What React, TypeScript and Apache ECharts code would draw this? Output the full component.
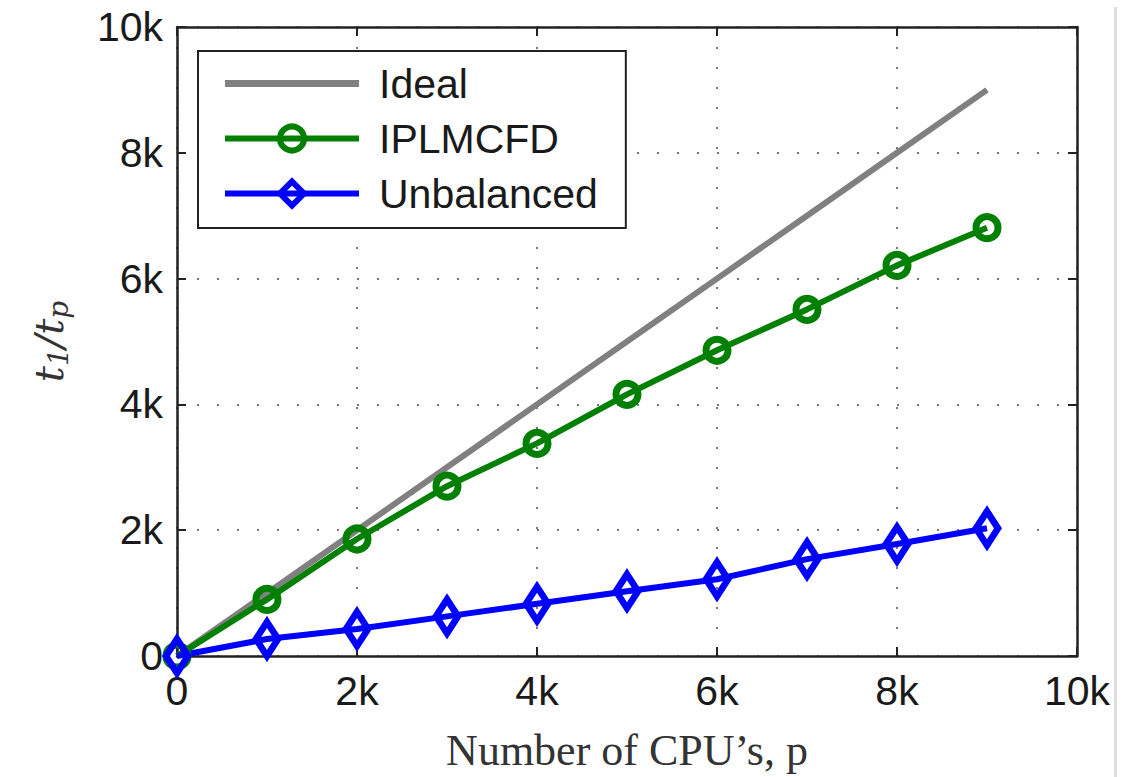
import React, { useEffect, useRef } from "react";
import * as echarts from "echarts";

const cpus = [0, 1000, 2000, 3000, 4000, 5000, 6000, 7000, 8000, 9000];
const ideal = [0, 1000, 2000, 3000, 4000, 5000, 6000, 7000, 8000, 9000];
const iplmcfd = [0, 900, 1860, 2700, 3380, 4160, 4860, 5510, 6210, 6810];
const unbalanced = [0, 270, 430, 630, 830, 1030, 1220, 1540, 1780, 2030];
const seriesNames = ["Ideal", "IPLMCFD", "Unbalanced"];

const fmt = (v: number) => (v === 0 ? "0" : v / 1000 + "k");
const pairs = (ys: number[]) => cpus.map((x, i) => [x, ys[i]]);

const AXIS = "#222";
const GREY = "#808080";
const GREEN = "#008000";
const BLUE = "#0000ff";
const CLEAR = "rgba(255,255,255,0)";
const tickFont = { fontFamily: "Liberation Sans", fontSize: 41, color: "#1a1a1a" };

export default function App() {
  const ref = useRef<HTMLDivElement>(null);
  useEffect(() => {
    if (!ref.current) return;
    const chart = echarts.init(ref.current, null, { renderer: "svg" });
    const baseX = {
      type: "value" as const,
      min: 0,
      max: 10000,
      interval: 2000,
      axisLine: { show: true, onZero: false, lineStyle: { color: AXIS, width: 2.5 } },
      axisTick: { show: true, inside: true, length: 9, lineStyle: { color: AXIS, width: 2 } },
    };
    chart.setOption({
      animation: false,
      backgroundColor: "#fff",
      grid: { left: 177, right: 47, top: 27, bottom: 120, containLabel: false },
      graphic: [
        { type: "rect", shape: { x: 1114, y: 7, width: 3, height: 770 }, style: { fill: "#dedede" } },
      ],
      legend: {
        orient: "vertical",
        left: 198,
        top: 51,
        padding: [12, 28, 14, 24],
        itemWidth: 134,
        itemHeight: 30,
        itemGap: 14,
        borderColor: AXIS,
        borderWidth: 2,
        backgroundColor: "#fff",
        textStyle: { fontFamily: "Liberation Sans", fontSize: 41, color: "#1a1a1a", padding: [0, 0, 0, 15] },
        data: [
          { name: seriesNames[0], icon: "path://M0 0H134V7H0Z", itemStyle: { color: GREY } },
          {
            name: seriesNames[1],
            itemStyle: { color: CLEAR, borderColor: GREEN, borderWidth: 6 },
            lineStyle: { color: GREEN, width: 6 },
          },
          {
            name: seriesNames[2],
            itemStyle: { color: CLEAR, borderColor: BLUE, borderWidth: 6 },
            lineStyle: { color: BLUE, width: 6 },
          },
        ],
      },
      xAxis: [
        {
          ...baseX,
          position: "bottom",
          axisLabel: { ...tickFont, margin: 14, formatter: fmt },
          splitLine: { show: true, lineStyle: { type: [2, 18], color: "#777", width: 2 } },
          name: "Number of CPU\u2019s, p",
          nameLocation: "middle",
          nameGap: 72,
          nameTextStyle: { fontFamily: "Liberation Serif", fontSize: 44, color: "#333" },
        },
        {
          ...baseX,
          position: "top",
          axisLabel: { show: false },
          splitLine: { show: false },
        },
      ],
      yAxis: [
        {
          ...baseX,
          position: "left",
          axisLabel: { ...tickFont, margin: 14, formatter: fmt },
          splitLine: { show: true, lineStyle: { type: [2, 18], color: "#777", width: 2 } },
          name: "{a|t}{b|1}{a|/t}{b|p}",
          nameLocation: "middle",
          nameRotate: 90,
          nameGap: 105,
          nameTextStyle: {
            rich: {
              a: { fontFamily: "DejaVu Serif", fontStyle: "italic", fontSize: 40, lineHeight: 46, color: "#333", verticalAlign: "middle" },
              b: { fontFamily: "DejaVu Serif", fontStyle: "italic", fontSize: 28, lineHeight: 28, color: "#333", verticalAlign: "bottom" },
            },
          },
        },
        {
          ...baseX,
          position: "right",
          axisLabel: { show: false },
          splitLine: { show: false },
        },
      ],
      series: [
        {
          name: seriesNames[0],
          type: "line",
          data: pairs(ideal),
          symbol: "none",
          showSymbol: false,
          itemStyle: { color: GREY },
          lineStyle: { color: GREY, width: 6 },
        },
        {
          name: seriesNames[1],
          type: "line",
          data: pairs(iplmcfd),
          symbol: "circle",
          symbolSize: 22,
          itemStyle: { color: CLEAR, borderColor: GREEN, borderWidth: 7 },
          lineStyle: { color: GREEN, width: 6 },
        },
        {
          name: seriesNames[2],
          type: "line",
          data: pairs(unbalanced),
          symbol: "diamond",
          symbolSize: [22, 34],
          itemStyle: { color: CLEAR, borderColor: BLUE, borderWidth: 7 },
          lineStyle: { color: BLUE, width: 6 },
        },
      ],
    });
    return () => chart.dispose();
  }, []);
  return <div ref={ref} style={{ position: "absolute", left: 0, top: 0, width: 1124, height: 777 }} />;
}
